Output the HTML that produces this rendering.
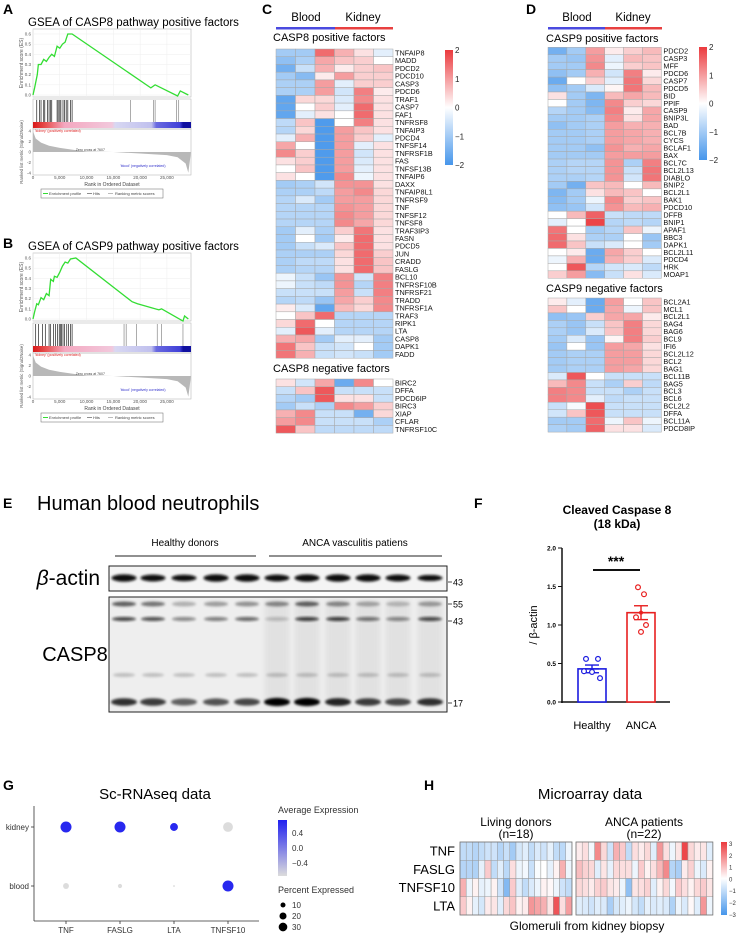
<!DOCTYPE html>
<html><head><meta charset="utf-8">
<style>
html,body{margin:0;padding:0;background:#fff;}
svg{display:block;font-family:"Liberation Sans",sans-serif;}
</style></head>
<body>
<svg id="fig" width="738" height="935" viewBox="0 0 738 935" xmlns="http://www.w3.org/2000/svg">
<defs>
<linearGradient id="gseaBar" x1="0" x2="1" y1="0" y2="0">
<stop offset="0" stop-color="#d81818"/><stop offset="0.08" stop-color="#e85050"/><stop offset="0.2" stop-color="#f4a8c0"/><stop offset="0.5" stop-color="#f2c8dc"/><stop offset="0.52" stop-color="#d8d8f2"/><stop offset="0.75" stop-color="#c0c0ee"/><stop offset="0.78" stop-color="#6a6ae0"/><stop offset="0.93" stop-color="#4040d8"/><stop offset="0.95" stop-color="#1010a0"/><stop offset="1" stop-color="#1010a0"/>
</linearGradient>
<linearGradient id="heatBar" x1="0" x2="0" y1="0" y2="1">
<stop offset="0" stop-color="rgb(235,58,62)"/><stop offset="0.5" stop-color="#fff"/><stop offset="1" stop-color="rgb(70,150,235)"/>
</linearGradient>
<linearGradient id="avgBar" x1="0" x2="0" y1="0" y2="1">
<stop offset="0" stop-color="#2020f0"/><stop offset="1" stop-color="#dcdcdc"/>
</linearGradient>
<filter id="blur1" x="-20%" y="-50%" width="140%" height="200%"><feGaussianBlur stdDeviation="1.2"/></filter>
<filter id="blur2" x="-20%" y="-80%" width="140%" height="260%"><feGaussianBlur stdDeviation="2.5"/></filter>
</defs>
</svg>
<script>
// ---------- DATA ----------
const gseaARank = [0,300,800,1000,1500,2000,2500,3000,3500,4000,4500,5000,5500,6000,6500,7300,22000,22800,27000,27500,29000];
const gseaAES   = [0,0.07,0.2,0.3,0.3,0.35,0.33,0.37,0.4,0.38,0.48,0.46,0.5,0.52,0.6,0.6,0.07,0.1,-0.01,0.04,0];
const gseaAHits = [700,1200,1500,2000,2200,2700,3000,3300,3500,4500,4700,5000,5200,5600,5900,6200,6500,7000,7300,18200,22500,22800,26800,27200];
const gseaBRank = [0,300,700,1000,1500,2000,2500,3000,3300,3800,4000,4500,5000,5500,6000,6500,7000,8000,18500,19500,23500,24000,28000,28300,29000];
const gseaBES   = [0,0.07,0.15,0.14,0.21,0.19,0.25,0.23,0.39,0.37,0.42,0.41,0.46,0.52,0.56,0.55,0.59,0.6,0.17,0.15,0.09,0.1,-0.02,0.03,0];
const gseaBHits = [500,1000,1800,2300,3000,3300,3800,4200,4600,4900,5100,5300,5600,5900,6300,6600,7000,7300,17000,17400,19300,23200,24000,28000];
const rankedX = [0,500,1500,3000,5000,7600,10000,15000,20000,25000,27000,28500,29000];
const rankedY = [4,2.6,1.8,1.2,0.8,0.4,0.1,0,-0.3,-0.6,-1,-2.2,-4];
const esTicks = [0,0.1,0.2,0.3,0.4,0.5,0.6];
const rankTicks = [0,5000,10000,15000,20000,25000];
const rankTickLabels = ["0","5,000","10,000","15,000","20,000","25,000"];

const c8PosGenes = ["TNFAIP8","MADD","PDCD2","PDCD10","CASP3","PDCD6","TRAF1","CASP7","FAF1","TNFRSF8","TNFAIP3","PDCD4","TNFSF14","TNFRSF1B","FAS","TNFSF13B","TNFAIP6","DAXX","TNFAIP8L1","TNFRSF9","TNF","TNFSF12","TNFSF8","TRAF3IP3","FASN","PDCD5","JUN","CRADD","FASLG","BCL10","TNFRSF10B","TNFRSF21","TRADD","TNFRSF1A","TRAF3","RIPK1","LTA","CASP8","DAPK1","FADD"];
const c8PosVals = [
[-1,-1,1.5,0.8,0.3,-0.3],[-1.2,-0.9,0.9,0.6,0.5,0],[-1.5,-0.6,0.8,0.2,0.5,0.6],[-1,-1.3,0.2,1,0.5,0.5],[-0.9,-0.9,1,-0.3,0.5,0.5],
[-0.9,-0.9,1,-0.5,1.3,0.2],[-1.7,0.4,0.4,-0.4,1.2,0.3],[-1.7,0,0.5,-0.3,1.5,0.3],[-1.7,-0.3,0.3,0,1.5,0.3],[-0.7,0.6,-1.9,0,1.3,0.3],
[-0.8,0.4,-1.9,1,0.6,0.3],[-0.3,0.8,-1.9,1,0.5,-0.3],[0.9,0,-1.9,1,-0.3,0.3],[1.2,0.5,-1.9,1,-0.5,0.3],[0.3,0.5,-1.9,1,-0.4,0.3],
[0,0.6,-1.9,1,-0.3,0.3],[0.3,0,-1.9,1.2,-0.2,0.3],[-1,-0.9,-0.5,1.1,1.1,0.3],[-0.9,-0.9,-0.7,1,1.2,0.4],[-0.8,-0.4,-1,1,1,0.4],
[-0.8,-0.8,-0.8,1.1,1,0.4],[-0.8,-0.8,-0.8,1.2,1,0.4],[-0.8,-0.8,-0.8,1.2,0.9,0.4],[-1,-0.3,-0.9,0.5,1.4,0.3],[-1,0,-1,0.2,1.5,0.3],
[-1,-0.6,-0.4,0.6,1.5,0.3],[-0.9,-0.9,-0.9,0.4,1.5,0.5],[-0.9,-0.7,-0.7,0.3,1.5,0.6],[-0.9,-0.8,-0.8,0.3,1.5,0.6],[-0.2,-0.6,-1.1,1.1,-0.5,1.3],
[-0.2,-0.6,-0.7,1.1,-0.8,1.3],[-0.6,-0.6,-0.6,1,-0.6,1.3],[-0.8,-0.7,-1.1,0.9,0.5,1.2],[0.2,-0.4,-1.7,0.7,0.4,1.2],[0,0.6,1.5,-0.8,-0.8,-0.8],
[0.4,1.5,0,-0.8,-0.8,-0.8],[-0.3,1.7,-0.3,-0.8,-0.8,-0.8],[0.8,0.9,-1,-0.3,-0.3,-1],[1.4,0.6,-0.6,-0.5,0,-1],[1.4,0.8,-0.6,-0.5,-0.6,-1]];
const c8NegGenes = ["BIRC2","DFFA","PDCD6IP","BIRC3","XIAP","CFLAR","TNFRSF10C"];
const c8NegVals = [[0.3,-0.5,0.9,-1.6,1.2,0],[-0.6,0.6,1.7,-0.6,-0.6,-0.6],[-0.8,-1,1.7,0.3,0.3,-0.6],[-1,-0.6,-0.9,1.2,1,0.5],[0.8,1.2,-0.6,-0.6,-1.5,0.4],[1,1.2,-0.6,-0.6,-0.6,-0.9],[1.7,0.6,-0.7,-0.7,-0.7,-0.7]];

const c9PosGenes = ["PDCD2","CASP3","MFF","PDCD6","CASP7","PDCD5","BID","PPIF","CASP9","BNIP3L","BAD","BCL7B","CYCS","BCLAF1","BAX","BCL7C","BCL2L13","DIABLO","BNIP2","BCL2L1","BAK1","PDCD10","DFFB","BNIP1","APAF1","BBC3","DAPK1","BCL2L11","PDCD4","HRK","MOAP1"];
const c9PosVals = [
[-1.5,-1,1,0.2,0.5,0.7],[-1,-1.1,1.1,-0.3,0.7,0.6],[-1,-1,1.2,-0.2,0.5,0.6],[-1.2,-1,0.8,-0.5,1.3,0.2],[-1.6,0,0.5,-0.3,1.4,0.4],
[-1.2,-1,-0.4,0.1,1.4,0.7],[0.3,-1,-1.4,0.7,0.9,0.7],[0,-1,-1.4,1.2,0.5,0.4],[-0.8,-1,-1.3,1.3,0.2,0.9],[-1,-1,-0.9,1.2,0.3,0.9],
[-1.2,-1,-0.9,1,0.8,0.8],[-1,-1,-0.9,1,0.9,0.8],[-1,-1,-0.9,1,0.9,0.8],[-1,-1,-1.2,1.1,0.8,0.9],[-1,-1,-1,1,1,1],
[-0.9,-0.8,-0.8,1.1,-0.9,1.3],[-0.9,-0.8,-0.8,1.1,-0.6,1.4],[-0.9,-0.9,-0.8,1.1,-0.5,1.4],[-1,-1.5,0.6,0.7,0,0.7],[-1.4,-1,0.3,0.7,0.6,0],
[-1.3,-1,-0.2,1.2,0.5,0.6],[-1.2,-1.1,-0.5,1.1,0.7,0.8],[0,0.7,1.6,-0.6,-0.7,-0.7],[-0.3,0,1.9,-0.8,-0.7,-0.8],[1.4,0,-1,-0.8,0.6,-0.2],
[1.5,0.3,-0.9,-0.9,0,-1.1],[1.5,0.6,-0.6,-0.4,0,-1],[0,0.2,-1.6,0.9,0.5,0],[-0.2,0.8,-1.6,0.8,0.5,-0.4],[0,1.7,-0.8,-0.5,-0.4,-0.7],[0.5,1,-1.3,-0.6,0.3,-0.4]];
const c9NegGenes = ["BCL2A1","MCL1","BCL2L1","BAG4","BAG6","BCL9","IFI6","BCL2L12","BCL2","BAG1","BCL11B","BAG5","BCL3","BCL6","BCL2L2","DFFA","BCL11A","PDCD8IP"];
const c9NegVals = [
[0.2,-0.3,-1.6,1,0,0.6],[0.6,0,-1.6,0.9,-0.2,0.6],[-1.2,-1.1,0.5,0.9,0.9,0.2],[-0.9,-1.1,-0.6,0.6,1.3,0.4],[-0.9,-1.1,-0.4,0.6,1.3,0.4],
[-1,-0.4,-1.1,0.1,1.3,0.5],[-1.1,0,-1.1,1,0.9,0.3],[-1,-0.9,-0.9,1,1,0.4],[-1,-0.9,-0.9,1,1,0.4],[-1,-0.9,-0.9,1,0.9,0.4],
[-0.4,1.7,0,-0.6,-0.6,-0.6],[0.7,1.2,-0.6,-0.9,0.5,-0.7],[1.3,1.2,-0.6,-0.6,-0.9,-0.6],[1.3,1.2,-0.3,-0.7,-0.6,-0.6],[-0.6,-0.1,1.8,-0.6,-0.6,-0.6],
[-0.5,0.6,1.7,-0.6,-0.6,-0.6],[-1,-1,1.5,-0.2,0.6,-0.2],[-0.9,-1,1.6,0.3,0.3,-0.4]];
const heatTicks = [2,1,0,-1,-2];

const fGroups = ["Healthy","ANCA"];
const fMeans = [0.43,1.16];
const fSEM = [0.05,0.09];
const fHealthyPts = [0.56,0.56,0.40,0.39,0.31];
const fAncaPts = [1.49,1.40,1.10,1.00,0.91];
const fTicks = [0,0.5,1,1.5,2];

const gGenes = ["TNF","FASLG","LTA","TNFSF10"];
const gTissues = ["kidney","blood"];
const gAvgKidney = [0.6,0.6,0.6,-0.6];
const gAvgBlood = [-0.6,-0.6,-0.6,0.6];
const gPctKidney = [35,35,18,28];
const gPctBlood = [10,5,1,35];
const gPctLegend = [10,20,30];
const gAvgTicks = [0.4,0.0,-0.4];

const hGenes = ["TNF","FASLG","TNFSF10","LTA"];
const hLiving = [
[-1,-1,-1.2,-1,-0.8,-0.8,-1.2,-0.9,-1.5,-0.7,-0.5,-1,-0.6,-0.8,-0.4,-1,-1.1,-0.3],
[-1.2,-1.2,-1.3,-0.4,0.8,-1,-0.5,-1.1,0.5,-0.3,-0.2,-0.9,-0.1,0,-0.4,0.2,1.2,-0.3],
[1.2,-0.3,0.2,-0.4,-0.3,0.2,-0.8,-2,0.8,-0.5,-1,-0.6,-0.3,0.2,0.1,-0.3,-0.8,-1],
[0.8,0.2,-0.4,-0.7,0.3,0.4,-0.5,0.6,0.9,0.2,0.3,1.6,1.4,1.2,0.4,2.6,0.5,1.5]];
const hAnca = [
[0.3,0.5,-0.2,1.8,0.6,-0.8,1.2,0.8,-1,0.5,0.3,0.6,-0.5,1.6,0.5,-0.3,0.4,2.8,0.6,0.3,0.4,-0.5],
[1,0.7,0.6,-0.5,0.4,-0.4,0.6,0.5,0.5,-0.3,0.8,0.2,0.5,1.1,1.8,-1.2,-1.4,0.3,0.7,-0.3,-0.6,0.2],
[0.6,0.5,0.3,0.7,0.8,0.4,0.3,-0.3,-1.8,0.4,0.5,0.7,-0.5,0.2,0.6,-0.2,0.8,0.5,0.2,0.6,0.8,0.4],
[-0.5,-0.6,-0.8,-0.5,-0.6,-1.4,-0.7,-0.5,-0.3,-0.7,-1,-0.4,-0.6,-0.5,-0.6,-1.3,-0.3,-0.6,0.1,-0.5,1.6,-0.3]];
const hTicks = [3,2,1,0,-1,-2,-3];

const blotLanes = [124,153,184,216,247,277,307,338,368,398,430];
const blotActin = [1,0.95,0.9,1,1,0.95,1,1,1,0.95,0.85];
const blot55 = [0.7,0.6,0.3,0.4,0.45,0.5,0.7,0.5,0.35,0.25,0.4];
const blot43 = [0.75,0.7,0.45,0.5,0.6,0.2,0.8,0.8,0.55,0.45,0.75];
const blot17 = [0.8,0.75,0.6,0.65,0.7,1,1,0.85,0.75,0.7,0.8];

// ---------- HELPERS ----------
const NS = "http://www.w3.org/2000/svg";
const svg = document.getElementById('fig');
function mk(tag, attrs, parent){ const e=document.createElementNS(NS,tag); for(const k in attrs) e.setAttribute(k,attrs[k]); (parent||svg).appendChild(e); return e; }
function txt(x,y,s,size,opts,parent){ const t=mk('text',Object.assign({x:x,y:y,'font-size':size,fill:'#000'},opts||{}),parent); t.textContent=s; return t; }
function heatColor(v,vmax){ let t=Math.max(-1,Math.min(1,v/vmax)); let c=t>=0?[235,58,62]:[70,150,235]; t=Math.abs(t); return 'rgb('+Math.round(255+(c[0]-255)*t)+','+Math.round(255+(c[1]-255)*t)+','+Math.round(255+(c[2]-255)*t)+')'; }

// ---------- PANEL LABELS ----------
[["A",3,14],["B",3,248],["C",262,14],["D",526,14],["E",3,508],["F",474,508],["G",3,790],["H",424,790]].forEach(p=>{
  const t=txt(p[1],p[2],p[0],14,{'font-weight':'bold'});
  
  
});

// ---------- GSEA ----------
function gsea(oy, ranks, es, hits, title, tag){
  const g=mk('g',{});
  
  
  const x0=33,x1=191,xmax=29500;
  const xs=r=>x0+(x1-x0)*r/xmax;
  const ys=v=>oy+95-v*101.7;
  const t=txt(28,oy+26,title,11.5,{},g);
  
  
  mk('rect',{x:x0,y:oy+29,width:x1-x0,height:68,fill:'none',stroke:'#bbb','stroke-width':0.6},g);
  mk('rect',{x:x0,y:oy+99,width:x1-x0,height:30,fill:'none',stroke:'#bbb','stroke-width':0.6},g);
  mk('rect',{x:x0,y:oy+129,width:x1-x0,height:46,fill:'none',stroke:'#bbb','stroke-width':0.6},g);
  esTicks.forEach(v=>{ mk('line',{x1:x0,x2:x1,y1:ys(v),y2:ys(v),stroke:'#eee','stroke-width':0.5},g); txt(x0-2,ys(v)+1.5,v.toFixed(1),4.5,{'text-anchor':'end',fill:'#555'},g); });
  rankTicks.forEach((r,i)=>{ mk('line',{x1:xs(r),x2:xs(r),y1:oy+29,y2:oy+97,stroke:'#eee','stroke-width':0.5},g); txt(xs(r),oy+179,rankTickLabels[i],4.5,{'text-anchor':'middle',fill:'#555'},g); });
  const yl=txt(0,0,'Enrichment score (ES)',5,{fill:'#555','text-anchor':'middle',transform:'translate(23,'+(oy+63)+') rotate(-90)'},g);
  
  
  txt(0,0,'Ranked list metric (Signal2Noise)',4.3,{fill:'#555','text-anchor':'middle',transform:'translate(23,'+(oy+152)+') rotate(-90)'},g);
  const line=mk('polyline',{points:ranks.map((r,i)=>xs(r)+','+ys(es[i])).join(' '),fill:'none',stroke:'#33dd33','stroke-width':1.3},g);
  
  
  hits.forEach(h=>{ const l=mk('line',{x1:xs(h),x2:xs(h),y1:oy+100,y2:oy+122,stroke:h>15000?'#888':'#222','stroke-width':0.7},g);
    
     });
  mk('rect',{x:x0,y:oy+122,width:x1-x0,height:6,fill:'url(#gseaBar)'},g);
  txt(x0+2,oy+132,"'kidney' (positively correlated)",3.5,{fill:'#d22'},g);
  const rs=v=>oy+152-v*5.2;
  const pts=[xs(0)+','+rs(0)].concat(rankedX.map((r,i)=>xs(r)+','+rs(rankedY[i]))).concat([xs(xmax)+','+rs(0)]);
  const poly=mk('polygon',{points:pts.join(' '),fill:'#b8b8b8'},g);
  
  
  [4,2,0,-2,-4].forEach(v=>txt(x0-2,rs(v)+1.5,String(v),4.5,{'text-anchor':'end',fill:'#555'},g));
  txt(xs(7600)+2,rs(0)-1,'Zero cross at 7607',3.5,{fill:'#444'},g);
  txt(xs(20500),oy+167,"'blood' (negatively correlated)",3.5,{fill:'#33c','text-anchor':'middle'},g);
  txt((x0+x1)/2,oy+186,'Rank in Ordered Dataset',5,{'text-anchor':'middle',fill:'#444'},g);
  const lg=mk('rect',{x:41,y:oy+189,width:122,height:9,fill:'#fff',stroke:'#666','stroke-width':0.5},g);
  
  
  mk('line',{x1:43,x2:48,y1:oy+193.5,y2:oy+193.5,stroke:'#3d3','stroke-width':1},g);
  txt(49,oy+195,'Enrichment profile',4,{fill:'#444'},g);
  mk('line',{x1:87,x2:92,y1:oy+193.5,y2:oy+193.5,stroke:'#444','stroke-width':0.6},g);
  txt(93,oy+195,'Hits',4,{fill:'#444'},g);
  mk('line',{x1:108,x2:113,y1:oy+193.5,y2:oy+193.5,stroke:'#bbb','stroke-width':1},g);
  txt(115,oy+195,'Ranking metric scores',4,{fill:'#444'},g);
}
gsea(0,gseaARank,gseaAES,gseaAHits,'GSEA of CASP8 pathway positive factors','a');
gsea(224,gseaBRank,gseaBES,gseaBHits,'GSEA of CASP9 pathway positive factors','b');

// ---------- HEATMAPS C / D ----------
function heat(x0,y0,cw,rh,vals,genes,vmax,tag){
  const g=mk('g',{});
  
  
  vals.forEach((row,i)=>{
    row.forEach((v,j)=>{
      const r=mk('rect',{x:x0+j*cw,y:y0+i*rh,width:cw,height:rh,fill:heatColor(v,vmax),stroke:'#a8a8a8','stroke-width':0.5},g);
      
      
    });
    if(genes){ const t=txt(x0+row.length*cw+2,y0+i*rh+rh*0.5+2.6,genes[i],7.3,{fill:'#111'},g);
      
       }
  });
}
function groupHeader(xb,xk,xe,cx1,cx2,tag){
  const t1=txt(cx1,21,'Blood',11.5,{'text-anchor':'middle'});
  
  
  const t2=txt(cx2,21,'Kidney',11.5,{'text-anchor':'middle'});
  
  
  mk('rect',{x:xb,y:27,width:xk-xb,height:2.5,fill:'#4a4adf'});
  mk('rect',{x:xk,y:27,width:xe-xk,height:2.5,fill:'#e84040'});
}
function heatLegend(x,y0,y1,tag){
  const r=mk('rect',{x:x,y:y0,width:8,height:y1-y0,fill:'url(#heatBar)'});
  
  
  heatTicks.forEach((v,i)=>txt(x+10,y0+(y1-y0)*i/(heatTicks.length-1)+3,v<0?'\u2212'+(-v):String(v),8,{fill:'#222'}));
}
groupHeader(276,335,393,306,363,'c');
txt(273,41,'CASP8 positive factors',11,{});
heat(276,49,19.5,7.73,c8PosVals,c8PosGenes,2,'casp8-positive');
txt(273,372,'CASP8 negative factors',11,{});
heat(276,379,19.5,7.73,c8NegVals,c8NegGenes,2,'casp8-negative');
heatLegend(445,50,165,'c');

groupHeader(548,605,662,577,633,'d');
txt(546,42,'CASP9 positive factors',11,{});
heat(548,47.3,18.9,7.45,c9PosVals,c9PosGenes,2,'casp9-positive');
txt(546,292,'CASP9 negative factors',11,{});
heat(548,298,18.9,7.45,c9NegVals,c9NegGenes,2,'casp9-negative');
heatLegend(699,47,160,'d');

// ---------- PANEL E: WESTERN BLOT ----------
(function(){
  const tt=txt(37,510,'Human blood neutrophils',20,{});
  
  
  txt(185,546,'Healthy donors',10,{'text-anchor':'middle'});
  mk('line',{x1:115,x2:256,y1:556,y2:556,stroke:'#222','stroke-width':1});
  txt(355,546,'ANCA vasculitis patiens',10,{'text-anchor':'middle'});
  mk('line',{x1:269,x2:442,y1:556,y2:556,stroke:'#222','stroke-width':1});
  const b=txt(100,585,'',21,{'text-anchor':'end'});
  
  
  const ts1=document.createElementNS(NS,'tspan'); ts1.setAttribute('font-style','italic'); ts1.textContent='\u03b2'; b.appendChild(ts1);
  const ts2=document.createElementNS(NS,'tspan'); ts2.textContent='-actin'; b.appendChild(ts2);
  const c=txt(75,661,'CASP8',20,{'text-anchor':'middle'});
  
  
  const g1=mk('g',{});
  
  
  mk('rect',{x:109,y:566,width:338,height:25,fill:'#f4f4f4',stroke:'#222','stroke-width':1},g1);
  blotLanes.forEach((x,i)=>{ const e=mk('ellipse',{cx:x,cy:578,rx:12.5,ry:3.6*blotActin[i],fill:'#080808',filter:'url(#blur1)'},g1);
    
     });
  const g2=mk('g',{});
  
  
  mk('rect',{x:109,y:597,width:338,height:115,fill:'#eeeeee',stroke:'#222','stroke-width':1},g2);
  blotLanes.forEach((x,i)=>{
    if(i>=5){ mk('rect',{x:x-12,y:600,width:24,height:100,fill:'#888',opacity:0.12,filter:'url(#blur2)'},g2); }
    mk('ellipse',{cx:x,cy:604,rx:12,ry:2.5,fill:'#222',opacity:blot55[i],filter:'url(#blur1)'},g2);
    mk('ellipse',{cx:x,cy:619,rx:12,ry:2,fill:'#111',opacity:blot43[i],filter:'url(#blur1)'},g2);
    mk('ellipse',{cx:x,cy:675,rx:11,ry:2,fill:'#666',opacity:0.35,filter:'url(#blur1)'},g2);
    const e=mk('ellipse',{cx:x,cy:702,rx:13,ry:2.6+1.5*blot17[i],fill:'#050505',opacity:blot17[i],filter:'url(#blur1)'},g2);
    
    
  });
  [[582,'43'],[604,'55'],[621,'43'],[703,'17']].forEach(m=>{ mk('line',{x1:448,x2:452,y1:m[0],y2:m[0],stroke:'#222','stroke-width':0.8}); txt(453,m[0]+3.5,m[1],9,{}); });
})();

// ---------- PANEL F: BAR CHART ----------
(function(){
  const ys=v=>702-v*77;
  const g=mk('g',{});
  
  
  txt(617,514,'Cleaved Caspase 8',12,{'font-weight':'bold','text-anchor':'middle'},g);
  txt(617,528,'(18 kDa)',12,{'font-weight':'bold','text-anchor':'middle'},g);
  mk('line',{x1:562,x2:562,y1:ys(2),y2:ys(0)+1,stroke:'#111','stroke-width':1.5},g);
  mk('line',{x1:561,x2:670,y1:ys(0),y2:ys(0),stroke:'#111','stroke-width':1.5},g);
  fTicks.forEach(v=>{ mk('line',{x1:558,x2:562,y1:ys(v),y2:ys(v),stroke:'#111','stroke-width':1},g); txt(556,ys(v)+2.5,v.toFixed(1),6.5,{'font-weight':'bold','text-anchor':'end'},g); });
  const yt=txt(0,0,'/ \u03b2-actin',11,{'text-anchor':'middle',transform:'translate(537,625) rotate(-90)'},g);
  
  
  const cols=['#1c1ce0','#e82020'], xc=[592,641];
  const ptsets=[fHealthyPts,fAncaPts];
  const jit=[[-6,6,-8,0,8],[-3,3,-5,5,0]];
  fGroups.forEach((nm,i)=>{
    const bar=mk('rect',{x:xc[i]-14,y:ys(fMeans[i]),width:28,height:ys(0)-ys(fMeans[i]),fill:'#fff',stroke:cols[i],'stroke-width':1.6},g);
    
    
    mk('line',{x1:xc[i],x2:xc[i],y1:ys(fMeans[i]+fSEM[i]),y2:ys(fMeans[i]-fSEM[i]),stroke:cols[i],'stroke-width':1.4},g);
    mk('line',{x1:xc[i]-7,x2:xc[i]+7,y1:ys(fMeans[i]+fSEM[i]),y2:ys(fMeans[i]+fSEM[i]),stroke:cols[i],'stroke-width':1.4},g);
    mk('line',{x1:xc[i]-7,x2:xc[i]+7,y1:ys(fMeans[i]-fSEM[i]),y2:ys(fMeans[i]-fSEM[i]),stroke:cols[i],'stroke-width':1.4},g);
    mk('line',{x1:xc[i]-7,x2:xc[i]+7,y1:ys(fMeans[i]),y2:ys(fMeans[i]),stroke:cols[i],'stroke-width':1.4},g);
    ptsets[i].forEach((v,k)=>{ const c=mk('circle',{cx:xc[i]+jit[i][k],cy:ys(v),r:2.4,fill:'#fff',stroke:cols[i],'stroke-width':1.2},g);
      
       });
    if(i===1){ mk('circle',{cx:xc[i],cy:ys(fMeans[i]),r:2,fill:cols[i]},g); }
    txt(xc[i],729,nm,11,{'text-anchor':'middle'},g);
  });
  mk('line',{x1:593,x2:640,y1:570,y2:570,stroke:'#111','stroke-width':2},g);
  txt(616,566,'***',14,{'font-weight':'bold','text-anchor':'middle'},g);
})();

// ---------- PANEL G: DOT PLOT ----------
(function(){
  const g=mk('g',{});
  
  
  txt(155,799,'Sc-RNAseq data',15,{'text-anchor':'middle'},g);
  mk('line',{x1:34,x2:34,y1:806,y2:921,stroke:'#333','stroke-width':0.8},g);
  mk('line',{x1:34,x2:259,y1:921,y2:921,stroke:'#333','stroke-width':0.8},g);
  const xs=i=>66+i*54;
  const yr=[827,886];
  const colFor=v=>{ const t=Math.max(0,Math.min(1,(v+0.6)/1.25)); return 'rgb('+Math.round(220-188*t)+','+Math.round(220-188*t)+','+Math.round(220+20*t)+')'; };
  const rad=p=>Math.max(0.8,Math.sqrt(p)*0.93);
  gTissues.forEach((tn,ti)=>{
    txt(29,yr[ti]+3,tn,8,{'text-anchor':'end',fill:'#333'},g);
    mk('line',{x1:31,x2:34,y1:yr[ti],y2:yr[ti],stroke:'#333','stroke-width':0.8},g);
    const av=ti===0?gAvgKidney:gAvgBlood, pc=ti===0?gPctKidney:gPctBlood;
    gGenes.forEach((gn,i)=>{ const c=mk('circle',{cx:xs(i),cy:yr[ti],r:rad(pc[i]),fill:colFor(av[i])},g);
      
       });
  });
  gGenes.forEach((gn,i)=>{ mk('line',{x1:xs(i),x2:xs(i),y1:921,y2:924,stroke:'#333','stroke-width':0.8},g); txt(xs(i),933,gn,8,{'text-anchor':'middle',fill:'#333'},g); });
  txt(278,813,'Average Expression',9,{fill:'#333'},g);
  const cb=mk('rect',{x:278,y:820,width:9,height:56,fill:'url(#avgBar)'},g);
  
  
  gAvgTicks.forEach(v=>{ const y=848-v*38; txt(292,y+3,v<0?'\u2212'+(-v).toFixed(1):v.toFixed(1),8,{fill:'#333'},g); });
  txt(278,893,'Percent Expressed',9,{fill:'#333'},g);
  gPctLegend.forEach((p,i)=>{ mk('circle',{cx:283,cy:905+i*11,r:rad(p)*0.85,fill:'#000'},g); txt(292,908+i*11,String(p),8,{fill:'#333'},g); });
})();

// ---------- PANEL H: MICROARRAY HEATMAP ----------
(function(){
  const g=mk('g',{});
  
  
  txt(590,799,'Microarray data',15,{'text-anchor':'middle','font-family':'"Liberation Sans Narrow","Liberation Sans",sans-serif'},g);
  const f='"Liberation Sans Narrow","Liberation Sans",sans-serif';
  txt(516,826,'Living donors',12,{'text-anchor':'middle','font-family':f},g);
  txt(516,838,'(n=18)',12,{'text-anchor':'middle','font-family':f},g);
  txt(644,826,'ANCA patients',12,{'text-anchor':'middle','font-family':f},g);
  txt(644,838,'(n=22)',12,{'text-anchor':'middle','font-family':f},g);
  const rh=18.25, cw=6.22;
  hGenes.forEach((gn,i)=>{
    const t=txt(455,842+i*rh+rh/2+4.5,gn,13,{'text-anchor':'end','font-family':f},g);
    
    
    hLiving[i].forEach((v,j)=>{ const r=mk('rect',{x:460+j*cw,y:842+i*rh,width:cw,height:rh,fill:heatColor(v,3),stroke:'#9a9a9a','stroke-width':0.5},g);
      
       });
    hAnca[i].forEach((v,j)=>{ const r=mk('rect',{x:576+j*cw,y:842+i*rh,width:cw,height:rh,fill:heatColor(v,3),stroke:'#9a9a9a','stroke-width':0.5},g);
      
       });
  });
  mk('rect',{x:460,y:842,width:18*cw,height:4*rh,fill:'none',stroke:'#777','stroke-width':0.8},g);
  mk('rect',{x:576,y:842,width:22*cw,height:4*rh,fill:'none',stroke:'#777','stroke-width':0.8},g);
  const cb=mk('rect',{x:721,y:842,width:6,height:73,fill:'url(#heatBar)'},g);
  
  
  hTicks.forEach((v,i)=>txt(729,844+i*11.8+2,v<0?'\u2212'+(-v):String(v),6,{fill:'#333'},g));
  txt(587,930,'Glomeruli from kidney biopsy',12,{'text-anchor':'middle','font-family':f},g);
})();
</script>
</body></html>
